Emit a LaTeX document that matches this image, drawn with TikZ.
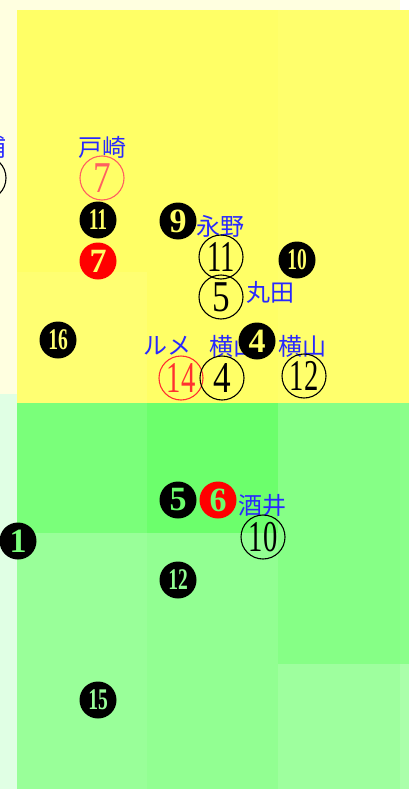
\documentclass[tikz,border=0pt]{standalone}
\usepackage{fontspec}
\setmainfont{Liberation Serif}
\newfontfamily\jp{Noto Sans CJK JP}
\definecolor{cream}{HTML}{FFFFE0}
\definecolor{mintbg}{HTML}{E0FFE4}
\definecolor{yelA}{HTML}{FFFF66}
\definecolor{yelB}{HTML}{FFFF6C}
\definecolor{yelC}{HTML}{FFFF72}
\definecolor{grA}{HTML}{7AFF7A}
\definecolor{grB}{HTML}{6CFF6C}
\definecolor{grC}{HTML}{86FF86}
\definecolor{grC2}{HTML}{8AFF8A}
\definecolor{grD}{HTML}{99FF99}
\definecolor{grE}{HTML}{92FF92}
\definecolor{grF}{HTML}{9EFF9E}
\definecolor{grF2}{HTML}{AAFFAA}
\definecolor{nameblue}{HTML}{2828FF}
\definecolor{softred}{HTML}{FF6060}
\definecolor{hotred}{HTML}{FF3030}
\tikzset{
  jpname/.style={text=nameblue,font=\jp\fontsize{24}{24}\selectfont,inner sep=0pt},
  ring/.style={circle,draw=black,line width=1.1pt,minimum size=44pt,inner sep=0pt,font=\fontsize{44}{44}\selectfont},
  ringred/.style={ring,draw=#1,text=#1},
  disc/.style={circle,fill=#1,minimum size=37pt,inner sep=0pt,font=\bfseries\fontsize{34}{34}\selectfont},
  discnum/.style={font=\bfseries\fontsize{30}{30}\selectfont}
}
\begin{document}
\begin{tikzpicture}[x=1pt,y=-1pt]
\useasboundingbox (0,0) rectangle (417,789);
\clip (0,0) rectangle (417,789);
% background regions
\fill[white] (0,0) rectangle (417,789);
\fill[cream] (0,0) rectangle (400,10);
\fill[cream] (0,10) rectangle (17,394);
\fill[mintbg] (0,394) rectangle (17,789);
\fill[yelA] (17,10) rectangle (278,403);
\fill[yelB] (278,10) rectangle (409,403);
\fill[yelC] (17,272) rectangle (147,403);
\fill[grA] (17,403) rectangle (147,533);
\fill[grB] (147,403) rectangle (278,533);
\fill[grC] (278,403) rectangle (400,664);
\fill[grC2] (400,403) rectangle (409,664);
\fill[grD] (17,533) rectangle (147,789);
\fill[grE] (147,533) rectangle (278,789);
\fill[grF] (278,664) rectangle (400,789);
\fill[grF2] (400,664) rectangle (409,789);
% names
\node[jpname] (ura) at (-5,147) {浦};
\node[ring] (ura13) at (-16,178) {};
\node[jpname] (tozaki) at (102,147) {戸崎};
\node[ringred=softred] (r7) at (102,178) {\scalebox{0.8}[1]{7}};
\node[jpname,anchor=west] (nagano) at (196,226) {永野};
\node[jpname] (maruta) at (270,292) {丸田};
\node[jpname] (yokoyamaA) at (233,346) {横山};
\node[jpname] (yokoyamaB) at (302,346) {横山};
\node[jpname] (lemaire) at (167,346) {ルメ};
\node[jpname] (sakai) at (262,506) {酒井};
% outline rings
\node[ring] (r11) at (221,257) {\scalebox{0.65}[1]{11}};
\node[ring] (r5) at (221,297) {\scalebox{0.8}[1]{5}};
\node[ringred=hotred] (r14) at (181,378) {\scalebox{0.65}[1]{14}};
\node[ring] (r4) at (222,378) {\scalebox{0.8}[1]{4}};
\node[ring] (r12) at (304,376) {\scalebox{0.65}[1]{12}};
\node[ring] (r10) at (263,537) {\scalebox{0.65}[1]{10}};
% filled discs
\node[disc=black,text=yelA,discnum] (d11) at (98,220) {\scalebox{0.65}[1]{11}};
\node[disc=red,text=yelA] (d7) at (98,261) {7};
\node[disc=black,text=yelC,discnum] (d16) at (58,340) {\scalebox{0.65}[1]{16}};
\node[disc=black,text=yelA] (d9) at (178,221) {9};
\node[disc=black,text=yelB,discnum] (d10) at (297,260) {\scalebox{0.65}[1]{10}};
\node[disc=black,text=yelA] (d4) at (257,341) {4};
\node[disc=black,text=grB] (d5) at (178,500) {5};
\node[disc=red,text=grB] (d6) at (218,500) {6};
\node[disc=black,text=grA] (d1) at (18,541) {1};
\node[disc=black,text=grE,discnum] (d12) at (178,580) {\scalebox{0.65}[1]{12}};
\node[disc=black,text=grD,discnum] (d15) at (98,700) {\scalebox{0.65}[1]{15}};
\end{tikzpicture}
\end{document}
